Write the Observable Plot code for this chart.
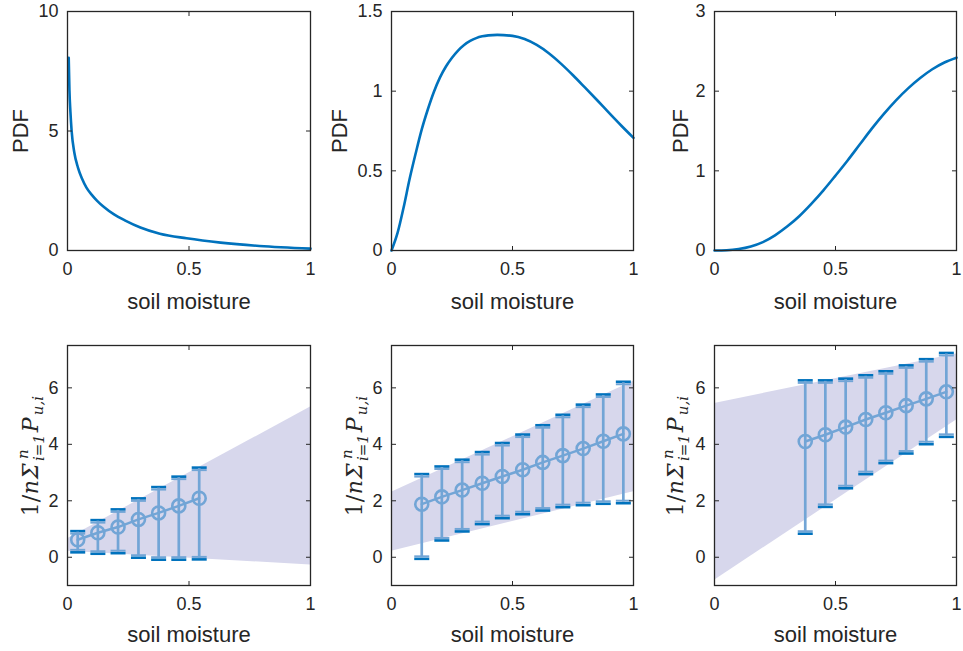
<!DOCTYPE html>
<html><head><meta charset="utf-8">
<script src="https://cdn.jsdelivr.net/npm/d3@7"></script>
<script src="https://cdn.jsdelivr.net/npm/@observablehq/plot@0.6"></script>
<style>
html,body{margin:0;padding:0;background:#fff;}
#chart{position:relative;width:963px;height:651px;overflow:hidden;background:#fff;}
#chart svg{position:absolute;}
</style></head><body><div id="chart"></div>
<script>
// ---------- data ----------
const xTickVals = [0, 0.5, 1];
const yTicks1 = [0, 5, 10];
const yTicks2 = [0, 0.5, 1, 1.5];
const yTicks3 = [0, 1, 2, 3];
const yTicksB = [0, 2, 4, 6];

const pdf1X = [0.005, 0.008, 0.012, 0.017, 0.028, 0.043, 0.06, 0.078, 0.1, 0.122, 0.15, 0.19, 0.24, 0.30, 0.38, 0.49, 0.63, 0.79, 1.0];
const pdf1Y = [8.06, 6.7, 5.8, 5.0, 4.1, 3.47, 3.0, 2.63, 2.33, 2.08, 1.82, 1.52, 1.24, 0.96, 0.70, 0.51, 0.33, 0.19, 0.08];

const pdf2X = [0, 0.025, 0.05, 0.075, 0.1, 0.125, 0.15, 0.175, 0.2, 0.225, 0.25, 0.275, 0.3, 0.325, 0.35, 0.375, 0.4, 0.437, 0.5, 0.55, 0.6, 0.65, 0.7, 0.75, 0.8, 0.85, 0.9, 0.95, 1];
const pdf2Y = [0, 0.11, 0.27, 0.45, 0.61, 0.76, 0.885, 0.995, 1.085, 1.155, 1.21, 1.255, 1.29, 1.315, 1.333, 1.344, 1.350, 1.353, 1.347, 1.327, 1.29, 1.238, 1.173, 1.10, 1.022, 0.943, 0.862, 0.783, 0.707];

const pdf3X = [0, 0.05, 0.1, 0.15, 0.2, 0.25, 0.3, 0.35, 0.4, 0.45, 0.5, 0.55, 0.6, 0.65, 0.7, 0.75, 0.8, 0.85, 0.9, 0.95, 1];
const pdf3Y = [0, 0.003, 0.018, 0.05, 0.105, 0.19, 0.30, 0.43, 0.585, 0.755, 0.94, 1.13, 1.33, 1.53, 1.715, 1.885, 2.035, 2.165, 2.275, 2.36, 2.42];

const binX4 = [0.042, 0.125, 0.208, 0.292, 0.375, 0.458, 0.542];
const mean4 = [0.62, 0.87, 1.07, 1.34, 1.57, 1.82, 2.09];
const hi4 = [0.89, 1.28, 1.66, 2.05, 2.45, 2.82, 3.14];
const lo4 = [0.21, 0.16, 0.18, 0.02, -0.05, -0.05, -0.04];
const bandX = [0, 1];
const band4Hi = [0.66, 5.32];
const band4Lo = [0.21, -0.27];

const binX5 = [0.125, 0.208, 0.292, 0.375, 0.458, 0.542, 0.625, 0.708, 0.792, 0.875, 0.958];
const mean5 = [1.88, 2.14, 2.38, 2.62, 2.86, 3.10, 3.36, 3.60, 3.85, 4.11, 4.37];
const hi5 = [2.91, 3.18, 3.42, 3.69, 4.01, 4.31, 4.64, 5.01, 5.37, 5.73, 6.18];
const lo5 = [-0.02, 0.63, 0.95, 1.21, 1.42, 1.56, 1.69, 1.81, 1.88, 1.93, 1.95];
const band5Hi = [2.30, 6.23];
const band5Lo = [0.21, 2.32];

const binX6 = [0.375, 0.458, 0.542, 0.625, 0.708, 0.792, 0.875, 0.958];
const mean6 = [4.10, 4.34, 4.61, 4.88, 5.12, 5.37, 5.61, 5.86];
const hi6 = [6.23, 6.23, 6.29, 6.41, 6.55, 6.76, 6.98, 7.20];
const lo6 = [0.87, 1.82, 2.48, 2.98, 3.37, 3.71, 4.04, 4.30];
const band6Hi = [5.45, 7.20];
const band6Lo = [-0.81, 4.86];

const xLabel = "soil moisture";
const pdfLabel = "PDF";

// ---------- styles ----------
const INK = "#262626", BLUE = "#0072BD", LIGHT = "#72a5d6", BANDC = "#d7d7ec";
const TL = 4.5;
const tickUp = {draw(c){c.moveTo(0,0);c.lineTo(0,-TL);}};
const tickDown = {draw(c){c.moveTo(0,0);c.lineTo(0,TL);}};
const tickRight = {draw(c){c.moveTo(0,0);c.lineTo(TL,0);}};
const tickLeft = {draw(c){c.moveTo(0,0);c.lineTo(-TL,0);}};
const capSym = {draw(c){c.moveTo(-7.5,0);c.lineTo(7.5,0);}};

const chart = document.getElementById("chart");
const fmt = d => String(d);

function panel({left, top, w, h, mt, mb, yDomain, yTicks, marks, labelDy}) {
  const tk = (data, o) => Plot.dot(data, {...o, r: 3, fill: "none", stroke: INK, strokeWidth: 1});
  const svg = Plot.plot({
    width: 67 + w + 8, height: mt + h + mb,
    marginLeft: 67, marginRight: 8, marginTop: mt, marginBottom: mb,
    x: {domain: [0, 1]},
    y: {domain: yDomain},
    style: {fontFamily: "'Liberation Sans', Arial, sans-serif", fontSize: "18px", color: INK, background: "transparent", overflow: "visible"},
    marks: [
      ...marks,
      Plot.axisX(xTickVals, {tickSize: 0, tickPadding: 12, tickFormat: fmt, label: null, fill: INK, fontSize: 18}),
      Plot.axisY(yTicks, {tickSize: 0, tickPadding: 9, tickFormat: fmt, label: null, fill: INK, fontSize: 18}),
      tk(xTickVals, {x: d => d, frameAnchor: "bottom", symbol: tickUp}),
      tk(xTickVals, {x: d => d, frameAnchor: "top", symbol: tickDown}),
      tk(yTicks, {y: d => d, frameAnchor: "left", symbol: tickRight}),
      tk(yTicks, {y: d => d, frameAnchor: "right", symbol: tickLeft}),
      Plot.frame({stroke: INK, strokeWidth: 1.3}),
      Plot.text([xLabel], {text: d => d, frameAnchor: "bottom", dy: labelDy, textAnchor: "middle", lineAnchor: "middle", fontSize: 22, fill: INK})
    ]
  });
  svg.style.left = (left - 67) + "px";
  svg.style.top = top + "px";
  chart.appendChild(svg);
  return svg;
}

function pdfMarks(xs, ys, dx, curve) {
  const data = xs.map((x, i) => ({x, y: ys[i]}));
  return [
    Plot.line(data, {x: "x", y: "y", stroke: BLUE, strokeWidth: 2.6, curve}),
    Plot.text([pdfLabel], {text: d => d, frameAnchor: "left", dx, rotate: -90, textAnchor: "middle", lineAnchor: "middle", fontSize: 22, fill: INK})
  ];
}

function errMarks(xs, means, his, los, bHi, bLo) {
  const pts = xs.map((x, i) => ({x, mean: means[i], hi: his[i], lo: los[i]}));
  const band = bandX.map((x, i) => ({x, hi: bHi[i], lo: bLo[i]}));
  const cap = (y, stroke, sw, dy) => Plot.dot(pts, {x: "x", y, symbol: capSym, r: 3, fill: "none", stroke, strokeWidth: sw, dy});
  return [
    Plot.areaY(band, {x: "x", y1: "lo", y2: "hi", fill: BANDC}),
    cap("hi", BLUE, 2.6, -1),
    cap("lo", BLUE, 2.6, 1),
    Plot.ruleX(pts, {x: "x", y1: "lo", y2: "hi", stroke: LIGHT, strokeWidth: 2.7}),
    cap("hi", LIGHT, 2, 1.5),
    cap("lo", LIGHT, 2, -1.5),
    Plot.line(pts, {x: "x", y: "mean", stroke: LIGHT, strokeWidth: 2.5}),
    Plot.dot(pts, {x: "x", y: "mean", r: 6.5, stroke: LIGHT, strokeWidth: 2.6, fill: "none"})
  ];
}

function addMath(svg, cx, cy) {
  const ns = "http://www.w3.org/2000/svg";
  const g = document.createElementNS(ns, "g");
  g.setAttribute("font-family", "'DejaVu Serif', serif");
  g.setAttribute("fill", INK);
  svg.appendChild(g);
  let x = 0;
  const piece = (str, size, y, italic) => {
    const t = document.createElementNS(ns, "text");
    t.textContent = str;
    t.setAttribute("font-size", size);
    t.setAttribute("y", y);
    t.setAttribute("font-style", italic ? "italic" : "normal");
    t.setAttribute("text-anchor", "start");
    g.appendChild(t);
    return t;
  };
  const put = (t, gap = 0) => { t.setAttribute("x", x); x += t.getBBox().width + gap; };
  put(piece("1/", 22, 0, false), 0);
  put(piece("n", 22, 0, true), 1);
  put(piece("Σ", 22, 0, true), 3);
  const sup = piece("n", 15, -10, true), sub = piece("i=1", 15, 6, true);
  sup.setAttribute("x", x); sub.setAttribute("x", x - 2);
  x += Math.max(sup.getBBox().width, sub.getBBox().width - 2) + 2;
  put(piece("P", 22, 0, true), 0);
  put(piece("u,i", 15, 5, true), 0);
  g.setAttribute("transform", `translate(${cx},${cy}) rotate(-90) translate(${-x / 2},0)`);
}

// top row
panel({left: 67, top: 0, w: 243, h: 239, mt: 11, mb: 70, yDomain: [0, 10], yTicks: yTicks1, labelDy: 51,
  marks: pdfMarks(pdf1X, pdf1Y, -47, "monotone-x")});
panel({left: 391, top: 0, w: 242, h: 239, mt: 11, mb: 70, yDomain: [0, 1.5], yTicks: yTicks2, labelDy: 51,
  marks: pdfMarks(pdf2X, pdf2Y, -52, "monotone-x")});
panel({left: 714, top: 0, w: 242, h: 239, mt: 11, mb: 70, yDomain: [0, 3], yTicks: yTicks3, labelDy: 51,
  marks: pdfMarks(pdf3X, pdf3Y, -34, "monotone-x")});

// bottom row
const s4 = panel({left: 67, top: 330, w: 243, h: 240, mt: 15, mb: 66, yDomain: [-1, 7.5], yTicks: yTicksB, labelDy: 49,
  marks: errMarks(binX4, mean4, hi4, lo4, band4Hi, band4Lo)});
const s5 = panel({left: 391, top: 330, w: 242, h: 240, mt: 15, mb: 66, yDomain: [-1, 7.5], yTicks: yTicksB, labelDy: 49,
  marks: errMarks(binX5, mean5, hi5, lo5, band5Hi, band5Lo)});
const s6 = panel({left: 714, top: 330, w: 242, h: 240, mt: 15, mb: 66, yDomain: [-1, 7.5], yTicks: yTicksB, labelDy: 49,
  marks: errMarks(binX6, mean6, hi6, lo6, band6Hi, band6Lo)});
addMath(s4, 38, 126);
addMath(s5, 38, 126);
addMath(s6, 36, 126);
</script></body></html>
